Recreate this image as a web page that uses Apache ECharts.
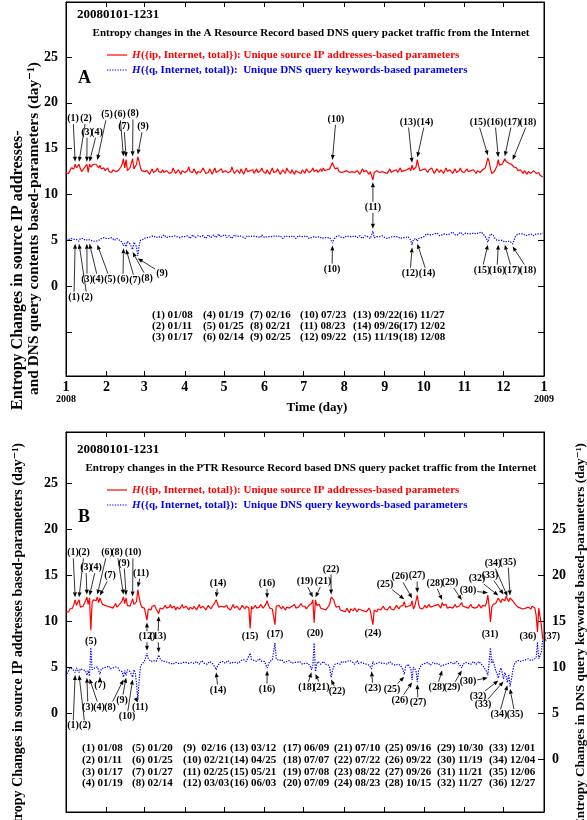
<!DOCTYPE html>
<html><head><meta charset="utf-8">
<script src="https://cdn.jsdelivr.net/npm/echarts@6/dist/echarts.min.js"></script>
<style>html,body{margin:0;padding:0;background:#fff}#c{width:587px;height:820px}</style>
</head><body><div id="c"></div>
<script>
// ---------------- DATA ----------------
const monthTicks = [0,31,60,91,121,152,182,213,244,274,305,335,366];
const monthLabels = ['1','2','3','4','5','6','7','8','9','10','11','12','1'];
const yearLabels = ['2008','2009'];
const yTickLabels = [0,5,10,15,20,25];

// Panel A: H({ip}) red, daily values (day 0 = 01/01/2008)
const RA = [
12.3,12.4,12.3,12.6,12.9,12.7,12.8,13.3,12.9,13.0,13.3,12.8,12.5,12.6,12.9,13.0,13.3,12.4,13.3,13.0,13.1,13.3,13.4,13.3,13.5,12.9,13.2,12.8,12.7,12.9,12.6,
12.8,12.9,12.5,12.6,12.4,12.7,12.9,12.5,12.4,12.6,12.8,13.0,13.3,13.9,12.9,13.8,12.6,12.7,12.9,13.1,13.9,12.8,12.7,13.3,14.1,13.6,12.9,12.6,12.4,
12.5,12.3,12.6,12.4,12.2,12.5,12.8,12.4,12.3,12.6,12.9,12.5,12.3,12.4,12.7,12.4,12.2,12.6,12.8,12.3,12.5,12.4,12.9,12.6,12.3,12.4,12.7,12.5,12.2,12.6,12.8,
12.4,12.3,12.6,13.0,12.5,12.3,12.4,12.8,12.6,12.2,12.5,12.7,12.4,12.3,12.9,12.6,12.3,12.5,12.4,12.8,12.5,12.2,12.6,12.9,12.4,12.3,12.6,12.5,12.8,12.4,
12.3,12.6,12.8,12.4,12.2,12.5,13.0,12.6,12.3,12.4,12.7,12.5,12.3,12.8,12.6,12.2,12.4,12.9,12.5,12.3,12.6,12.4,12.7,12.3,12.5,12.8,12.4,12.2,12.6,12.9,12.5,
12.4,12.3,12.7,12.5,12.2,12.6,12.9,12.4,12.3,12.5,12.8,12.6,12.2,12.4,12.7,12.5,12.3,12.9,12.6,12.4,12.3,12.7,12.5,12.2,12.6,12.8,12.4,12.5,12.3,12.7,
12.5,12.3,12.8,12.6,12.4,12.2,12.6,12.9,12.5,12.3,12.7,12.4,12.6,12.8,12.5,12.9,12.6,12.8,12.7,12.9,12.8,12.9,13.5,13.1,12.8,12.6,12.9,12.5,12.7,12.4,12.6,
12.5,12.3,12.6,12.8,12.4,12.2,12.5,12.7,12.4,12.3,12.6,12.5,12.2,12.4,12.8,12.5,12.3,12.6,12.4,12.2,12.5,12.3,11.6,12.4,12.2,12.6,12.8,12.4,12.3,12.5,12.7,
12.4,12.6,12.3,12.5,12.8,12.4,12.2,12.6,12.5,12.7,12.4,12.6,12.9,12.5,12.7,12.6,12.8,12.7,12.5,12.9,12.6,13.2,12.7,12.9,13.0,13.8,13.1,12.6,12.4,12.7,
12.5,12.8,12.6,12.4,12.7,12.5,12.9,12.6,12.3,12.5,12.8,12.6,12.4,12.7,12.5,12.3,12.6,12.9,12.5,12.4,12.7,12.6,12.3,12.5,12.8,12.4,12.3,12.6,12.9,12.5,12.4,
12.4,12.6,12.8,12.5,12.3,12.6,12.4,12.7,12.5,12.3,12.6,12.8,12.4,12.5,12.7,12.6,12.9,13.4,14.0,13.6,12.8,12.3,12.1,12.5,12.8,13.1,13.8,13.2,13.0,13.3,
13.4,13.9,13.6,13.5,13.4,13.2,13.3,13.5,13.0,12.8,12.9,12.6,12.4,12.7,12.5,12.3,12.6,12.4,12.2,12.5,12.4,12.3,12.5,12.6,12.4,12.3,12.2,12.4,12.1,12.0,11.9
];
// Panel A: H({q}) blue
const BA = [
5.1,5.2,5.1,5.0,5.2,5.3,5.1,4.9,5.1,5.2,4.9,5.2,5.3,5.2,5.1,5.0,4.9,5.1,4.9,5.0,5.1,4.9,4.8,4.9,4.8,5.0,5.1,5.2,5.1,5.3,5.2,
5.2,5.3,5.2,5.1,5.3,5.2,5.0,5.1,5.2,5.1,5.0,4.9,4.8,4.4,4.7,4.3,4.9,5.0,4.6,4.5,4.0,4.8,5.0,4.3,3.3,4.4,5.0,5.2,5.1,
5.2,5.3,5.4,5.3,5.2,5.4,5.3,5.5,5.4,5.3,5.2,5.4,5.5,5.3,5.4,5.6,5.4,5.3,5.5,5.4,5.2,5.4,5.6,5.5,5.3,5.4,5.5,5.3,5.2,5.4,5.6,
5.4,5.3,5.5,5.4,5.2,5.4,5.6,5.5,5.3,5.4,5.5,5.7,5.4,5.3,5.5,5.4,5.2,5.4,5.6,5.5,5.3,5.4,5.6,5.4,5.3,5.5,5.7,5.4,5.3,5.5,
5.4,5.6,5.3,5.4,5.5,5.3,5.2,5.4,5.6,5.5,5.4,5.3,5.5,5.6,5.4,5.3,5.2,5.4,5.5,5.3,5.4,5.6,5.5,5.3,5.4,5.2,5.4,5.5,5.3,5.6,5.4,
5.3,5.5,5.4,5.2,5.4,5.6,5.4,5.3,5.5,5.3,5.4,5.6,5.5,5.3,5.2,5.4,5.5,5.3,5.4,5.6,5.4,5.3,5.5,5.4,5.2,5.4,5.5,5.3,5.4,5.6,
5.4,5.3,5.5,5.4,5.2,5.4,5.3,5.5,5.4,5.2,5.3,5.5,5.4,5.3,5.2,5.4,5.3,5.5,5.3,5.2,5.3,5.1,4.7,5.1,5.3,5.4,5.3,5.5,5.4,5.3,5.4,
5.3,5.4,5.5,5.3,5.4,5.6,5.4,5.3,5.5,5.4,5.3,5.4,5.5,5.3,5.2,5.4,5.5,5.3,5.4,5.3,5.2,5.4,6.0,5.3,5.2,5.4,5.5,5.4,5.3,5.5,5.4,
5.3,5.4,5.2,5.4,5.3,5.5,5.4,5.2,5.4,5.3,5.4,5.3,5.2,5.4,5.3,5.1,5.3,5.2,5.4,5.2,5.0,4.5,5.1,5.3,5.2,4.9,5.2,5.4,5.3,5.5,
5.4,5.6,5.7,5.5,5.6,5.8,5.6,5.5,5.7,5.6,5.8,5.6,5.5,5.7,5.6,5.8,5.7,5.5,5.6,5.8,5.7,5.6,5.9,5.7,5.6,5.8,5.6,5.7,5.9,5.8,5.6,
5.7,5.8,5.6,5.7,5.9,5.7,5.6,5.8,5.9,5.7,5.6,5.8,5.7,5.9,5.8,5.6,5.5,5.2,4.8,5.3,5.7,5.8,5.6,5.3,5.1,5.0,4.8,5.0,4.9,5.0,
4.9,4.8,5.0,4.9,4.8,4.9,4.7,4.6,5.0,5.4,5.6,5.7,5.6,5.7,5.6,5.7,5.6,5.5,5.7,5.6,5.5,5.7,5.6,5.5,5.6,5.7,5.6,5.7,5.8,5.7,5.8
];
// Panel B: H({ip}) red (left axis)
const RB = [
11.0,11.1,11.0,11.3,11.5,11.4,11.8,12.3,11.7,11.9,12.3,11.5,11.3,11.6,11.9,12.2,12.6,11.8,12.5,9.0,12.0,12.3,12.4,12.2,12.6,12.0,12.5,12.1,11.8,12.0,11.7,
11.9,11.6,11.8,11.5,11.7,11.4,11.6,11.9,11.5,11.7,11.8,12.0,12.2,12.6,11.9,12.5,11.7,11.9,11.6,12.0,12.4,11.8,11.6,12.1,13.4,12.6,11.9,11.5,11.3,
11.4,11.2,10.1,11.3,11.5,11.2,11.6,11.4,11.7,11.3,11.5,10.8,11.4,11.6,11.3,11.5,11.7,11.4,11.2,11.5,11.8,11.4,11.3,11.6,11.2,11.5,11.7,11.3,11.5,11.8,11.4,
11.3,11.6,11.4,11.2,11.5,11.7,11.3,11.6,11.4,11.2,11.5,11.8,11.4,11.3,11.6,11.5,11.2,11.4,11.7,11.5,11.3,11.6,11.8,12.0,12.3,11.9,11.5,11.3,11.6,11.4,
11.5,11.3,11.7,11.4,11.6,11.2,11.5,11.8,11.4,11.3,11.6,11.5,11.2,11.4,11.7,11.5,11.3,11.6,11.8,11.4,9.2,11.6,11.3,11.5,11.7,11.4,11.2,11.5,11.8,11.6,11.4,
11.5,11.8,12.2,11.7,11.4,11.6,11.3,11.5,9.6,11.6,11.4,11.7,11.5,11.3,11.6,11.4,11.2,11.5,11.7,11.4,11.3,11.6,11.5,11.8,11.4,11.3,11.5,11.7,11.9,11.6,
11.4,11.6,11.3,11.5,11.7,11.8,11.9,12.3,9.8,12.3,11.7,11.5,11.8,11.4,11.6,11.3,11.5,11.2,11.4,11.6,11.9,12.6,12.6,12.3,11.8,11.5,11.3,11.6,11.2,11.4,11.1,
11.3,11.0,11.4,11.2,10.9,11.3,11.5,11.1,11.4,11.2,11.0,11.3,11.5,11.2,11.4,11.1,11.3,11.0,11.2,11.4,11.1,11.3,9.6,11.2,11.4,11.0,11.3,11.5,11.2,11.4,11.6,
11.3,11.5,11.2,11.4,11.6,11.3,11.5,11.2,11.4,11.7,11.5,11.3,11.6,11.4,11.7,12.1,11.5,11.3,11.6,11.4,11.7,12.2,11.3,11.6,11.4,12.8,11.8,11.4,11.6,11.3,
11.5,11.7,11.4,11.6,11.8,11.5,11.3,11.6,11.4,11.7,11.5,11.8,11.6,11.4,12.0,11.7,11.5,11.8,11.4,11.6,11.5,11.7,11.4,11.6,11.8,11.5,11.3,11.6,11.7,12.0,11.6,
11.8,11.5,11.7,11.4,11.6,11.8,11.5,11.7,11.4,11.6,11.5,11.8,11.6,11.4,11.7,11.5,11.6,12.0,12.8,11.6,9.9,11.5,11.8,12.0,11.9,12.2,12.5,12.3,12.0,12.4,
12.6,12.2,12.7,12.4,12.1,12.5,12.3,12.2,12.0,11.8,11.6,11.5,11.3,11.4,11.2,11.3,11.5,11.4,11.3,11.5,11.4,11.3,11.6,11.5,11.4,10.6,8.8,11.4,11.6,9.5,8.0
];
// Panel B: H({q}) blue (right axis)
const BB = [
9.0,9.3,9.6,9.9,10.0,9.8,10.0,9.4,9.9,10.0,9.4,9.8,10.0,9.7,9.8,9.6,9.1,9.6,9.0,12.1,9.7,9.8,9.9,9.7,10.0,9.6,9.2,9.8,10.0,9.9,10.1,
10.0,9.9,10.1,9.8,10.0,9.9,9.7,10.0,9.8,9.9,9.6,9.8,9.5,8.9,9.6,9.1,9.7,9.9,9.5,9.4,8.9,9.7,9.4,8.2,6.4,8.5,10.0,10.3,10.5,
10.6,10.8,11.5,10.9,10.7,10.6,10.5,10.7,10.8,10.6,10.8,11.3,10.9,10.7,10.6,10.5,10.6,10.4,10.5,10.6,10.4,10.5,10.3,10.4,10.5,10.3,10.4,10.5,10.4,10.3,10.5,
10.4,10.5,10.3,10.4,10.6,10.5,10.3,10.4,10.5,10.6,10.4,10.3,10.5,10.7,10.6,10.4,10.5,10.3,10.4,10.6,10.5,10.4,10.2,10.0,9.7,10.1,10.3,10.5,10.4,10.6,
10.5,10.4,10.6,10.7,10.5,10.4,10.6,10.5,10.3,10.5,10.6,10.4,10.5,10.7,10.6,10.8,10.7,10.6,10.9,10.7,11.5,10.8,10.6,10.7,10.8,10.6,10.7,10.9,10.8,10.6,10.7,
10.6,10.4,9.9,10.3,10.6,10.7,10.8,10.9,12.6,10.9,10.8,10.7,10.6,10.8,10.7,10.5,10.7,10.6,10.5,10.7,10.6,10.4,10.6,10.5,10.7,10.5,10.4,10.6,10.5,10.3,
10.5,10.4,10.6,10.4,10.3,10.1,9.7,10.2,12.6,9.5,10.3,10.6,10.5,10.3,10.4,10.6,10.5,10.3,10.4,10.2,9.9,8.9,9.6,10.0,10.3,10.2,10.4,10.5,10.3,10.6,10.4,
10.5,10.3,10.6,10.4,10.7,10.5,10.6,10.4,10.3,10.5,10.7,10.4,10.6,10.5,10.3,10.4,10.6,10.3,10.5,10.2,10.4,9.8,10.6,10.3,10.5,10.4,10.2,10.5,10.3,10.4,10.6,
10.4,10.5,10.3,10.4,10.6,10.4,10.3,10.5,10.2,10.4,10.3,10.5,10.2,10.0,9.7,9.2,10.0,10.2,10.3,10.1,9.8,8.6,10.0,10.2,9.6,8.4,9.6,10.0,10.2,10.3,
10.2,10.4,10.3,10.5,10.4,10.2,10.3,10.5,10.4,10.3,10.5,10.4,10.2,10.1,9.9,10.2,10.4,10.3,10.5,10.4,10.3,10.5,10.4,10.3,10.5,10.6,10.4,10.3,10.1,9.9,10.3,
10.4,10.5,10.6,10.4,10.5,10.3,10.4,10.6,10.5,10.3,10.5,10.6,10.4,10.3,10.2,10.0,9.8,9.5,9.1,10.6,12.1,10.4,10.8,10.2,9.6,9.3,8.8,9.5,9.9,9.4,
8.7,9.4,9.0,8.3,9.2,7.9,8.6,9.5,10.2,10.5,10.6,10.7,10.5,10.6,10.8,10.7,10.6,10.8,10.7,10.9,10.8,10.7,10.9,10.8,10.7,11.0,12.7,10.9,10.8,11.6,13.0
];
const datesA = ['01/08','01/11','01/17','01/19','01/25','02/14','02/16','02/21','02/25','07/23','08/23','09/22','09/22','09/26','11/19','11/27','12/02','12/08'];
const datesB = ['01/08','01/11','01/17','01/19','01/20','01/25','01/27','02/14','02/16','02/21','02/25','03/03','03/12','04/25','05/21','06/03','06/09','07/07','07/08','07/09','07/10','07/22','08/22','08/23','09/16','09/22','09/26','10/15','10/30','11/19','11/21','11/27','12/01','12/04','12/06','12/27'];

// ---------------- LAYOUT ----------------
// annotation label anchors: [number, series, labelDay, labelValue, arrow?]
const annA = [
 [1,'r',5.4,18.3],[2,'r',15.3,18.3],[3,'r',16.1,16.8],[4,'r',23.7,16.8],[5,'r',31.4,18.7],[6,'r',41.3,18.7],[7,'r',44.4,17.4],[8,'r',51.3,18.8],[9,'r',59.0,17.4],[10,'r',206.7,18.2],[11,'r',235,8.6],[13,'r',261.9,17.9],[14,'r',274.9,17.9],[15,'r',315.5,17.9],[16,'r',328.5,17.9],[17,'r',341.5,17.9],[18,'r',353.7,17.9],
 [1,'b',6.1,-1.2],[2,'b',16.1,-1.2],[3,'b',16.1,0.76],[4,'b',24.5,0.76],[5,'b',33.7,0.76],[6,'b',43.6,0.76],[7,'b',52.8,0.65],[8,'b',62.0,0.87],[9,'b',73.5,1.4],[10,'b',203.7,1.86],[11,'b',235,8.6],[12,'b',263.4,1.4],[14,'b',276.4,1.4],[15,'b',318.5,1.75],[16,'b',330,1.75],[17,'b',341.5,1.75],[18,'b',353.7,1.75]
];
const annB = [
 [1,'r',5.4,17.4],[2,'r',13.8,17.4],[3,'r',15.3,15.8],[4,'r',23.0,15.8],[6,'r',31.4,17.4],[7,'r',33.7,14.9],[8,'r',39.1,17.4],[9,'r',44.4,16.3],[10,'r',51.3,17.4],[11,'r',57.4,15.2],[14,'r',116.4,14.1],[16,'r',153.9,14.1],[19,'r',183,14.3],[21,'r',196.8,14.3],[22,'r',202.9,15.65],[25,'r',244.3,14.0],[26,'r',255.7,14.8],[27,'r',268.8,14.9],[28,'r',282.5,14.1],[29,'r',294,14.2],[30,'r',307.8,13.3],[32,'r',314.7,14.6],[33,'r',324.7,15.0],[34,'r',327,16.3],[35,'r',338.4,16.4],
 [5,'r',19.1,7.8,0],[15,'r',140.9,8.3,0],[17,'r',160,8.5,0],[20,'r',190.7,8.7,0],[24,'r',235,8.7,0],[31,'r',324.7,8.5,0],[36,'r',353.7,8.3,0],[37,'r',372,8.3,0],
 [12,'r',62,8.3],[12,'b',62,8.3],[13,'r',70.4,8.3],[13,'b',70.4,8.3],
 [1,'b',5.4,-1.4],[2,'b',14.5,-1.4],[3,'b',16.8,0.65],[4,'b',25.3,0.65],[7,'b',26,3.0],[8,'b',33.7,0.65],[9,'b',42.9,1.4],[10,'b',46.7,-0.4],[11,'b',56.7,0.65],[14,'b',116.4,2.5],[16,'b',153.9,2.6],[18,'b',184.3,2.8],[21,'b',195.5,2.8],[22,'b',207.5,2.3],[23,'b',235,2.7],[25,'b',249.6,2.6],[26,'b',255.7,1.4],[27,'b',269.5,1.1],[28,'b',284,2.8],[29,'b',295.6,2.8],[30,'b',307.8,3.4],[32,'b',315.5,1.8],[33,'b',319.3,0.9],[34,'b',331.5,-0.2],[35,'b',343.8,-0.2]
];
const FF = '"Liberation Serif","DejaVu Serif",serif';
const L = {
  gridA:{left:66, top:2, width:478, height:374}, gridB:{left:66, top:432, width:478, height:380},
  yA:[-9.8,31], yBL:[-10.76,30.54], yBR:[-5.76,35.54],
  tableA:{x:[152,203,250,300,353,399], y:[315,326,337], rows:3},
  tableB:{x:[82,132,183,230,283,334,385,437,489], y:[748,760,772,783], rows:4}
};

const chart = echarts.init(document.getElementById('c'));
const dayOf = s => monthTicks[+s.slice(0,2)-1] + (+s.slice(3)) - 1;
const blk = '#000';

function xAx(grid, pos, labels) {
  return {type:'value', gridIndex:grid, position:pos, min:0, max:366, splitLine:{show:false},
    axisLine:{show:true, onZero:false, lineStyle:{color:blk, width:1}},
    axisTick:{show:true, inside:true, length:5, customValues:monthTicks, lineStyle:{color:blk, width:1}},
    axisLabel: labels ? {show:true, customValues:monthTicks, margin:4, showMinLabel:true, showMaxLabel:true,
      formatter: v => { const i = monthTicks.indexOf(v);
        if (i === 0) return '{m|' + monthLabels[0] + '}\n{y|' + yearLabels[0] + '}';
        if (i === 12) return '{m|' + monthLabels[12] + '}\n{y|' + yearLabels[1] + '}';
        return '{m|' + monthLabels[i] + '}'; },
      rich:{m:{fontSize:14, fontWeight:'bold', fontFamily:FF, color:blk, lineHeight:14},
            y:{fontSize:10, fontWeight:'bold', fontFamily:FF, color:blk, lineHeight:11}}} : {show:false}};
}
function yAx(grid, pos, mm, labels, ticks) {
  return {type:'value', gridIndex:grid, position:pos, min:mm[0], max:mm[1], splitLine:{show:false},
    axisLine:{show:true, onZero:false, lineStyle:{color:blk, width:1}},
    axisTick:{show:true, inside:true, length:6, customValues:ticks, lineStyle:{color:blk, width:1}},
    axisLabel: labels ? {show:true, customValues:yTickLabels, margin:8, fontSize:14, fontWeight:'bold', fontFamily:FF, color:blk} : {show:false}};
}
const lineS = (d, xi, yi, color, dash) => ({type:'line', xAxisIndex:xi, yAxisIndex:yi, data:d.map((v,i)=>[i,v]),
  symbol:'none', showSymbol:false, silent:true, animation:false,
  lineStyle:{color, width:1.2, type: dash ? [1.3,1.3] : 'solid'}});

chart.setOption({
  animation:false,
  grid:[Object.assign({show:true, borderColor:blk, borderWidth:1}, L.gridA), Object.assign({show:true, borderColor:blk, borderWidth:1}, L.gridB)],
  xAxis:[xAx(0,'bottom',true), xAx(0,'top',false), xAx(1,'bottom',false), xAx(1,'top',false)],
  yAxis:[yAx(0,'left',L.yA,true,[-5,0,5,10,15,20,25]), yAx(0,'right',L.yA,false,[-5,0,5,10,15,20,25]),
         yAx(1,'left',L.yBL,true,[0,5,10,15,20,25]), yAx(1,'right',L.yBR,true,[0,5,10,15,20,25,30])],
  series:[lineS(RA,0,0,'#ff0000',false), lineS(BA,0,0,'#0000ff',true), lineS(RB,2,2,'#ff0000',false), lineS(BB,2,3,'#0000ff',true)]
});

// ---------------- GRAPHICS ----------------
const G = [];
function T(x, y, text, size, align, color, extra) {
  const el = {type:'text', x, y, z:100, silent:true, style:{text, font:'bold ' + size + 'px ' + FF, fill:color || blk,
    align:align || 'left', verticalAlign:'middle', textAlign:align || 'left', textVerticalAlign:'middle'}};
  return Object.assign(el, extra || {});
}
function arrow(tail, tip) {
  const dx = tip[0]-tail[0], dy = tip[1]-tail[1], len = Math.hypot(dx,dy) || 1;
  const ux = dx/len, uy = dy/len, Lh = 5, W = 2;
  const bx = tip[0]-ux*Lh, by = tip[1]-uy*Lh;
  G.push({type:'line', z:100, silent:true, shape:{x1:tail[0], y1:tail[1], x2:bx, y2:by}, style:{stroke:blk, lineWidth:0.8}});
  G.push({type:'polygon', z:100, silent:true, shape:{points:[[tip[0],tip[1]],[bx-uy*W, by+ux*W],[bx+uy*W, by-ux*W]]}, style:{fill:blk}});
}
function annotate(list, dates, lblAx, defs) {
  const seen = {};
  list.forEach(e => {
    const [n, s, lx, ly, ar] = e;
    const c = chart.convertToPixel({xAxisIndex:lblAx[0], yAxisIndex:lblAx[1]}, [lx, ly]);
    const lab = '(' + n + ')';
    const key = lab + '_' + lx + '_' + ly;
    if (!seen[key]) { seen[key] = 1; G.push(T(c[0], c[1], lab, 10, 'center')); }
    if (ar === 0 || !dates[n-1]) return;
    const day = dayOf(dates[n-1]);
    const sd = defs[s];
    const p = chart.convertToPixel({xAxisIndex:sd.ax[0], yAxisIndex:sd.ax[1]}, [day, sd.data[day]]);
    const above = c[1] < p[1];
    const tip = [p[0], p[1] + (above ? -2.5 : 2.5)];
    const dx = tip[0]-c[0], dy = tip[1]-c[1];
    const hw = (6.6 + 5*String(n).length)/2 + 1, hh = 5.5;
    const k = Math.min(dx ? hw/Math.abs(dx) : 1e9, dy ? hh/Math.abs(dy) : 1e9);
    arrow([c[0]+dx*k, c[1]+dy*k], tip);
  });
}
annotate(annA, datesA, [0,0], {r:{data:RA, ax:[0,0]}, b:{data:BA, ax:[0,0]}});
annotate(annB, datesB, [2,2], {r:{data:RB, ax:[2,2]}, b:{data:BB, ax:[2,3]}});

function table(dates, t) {
  dates.forEach((d, i) => {
    const col = Math.floor(i / t.rows), row = i % t.rows, n = i + 1;
    const colHasTwo = dates.some((_, j) => Math.floor(j / t.rows) === col && j + 1 >= 10);
    const sep = (n < 10 && colHasTwo) ? '  ' : ' ';
    G.push(T(t.x[col], t.y[row], '(' + n + ')' + sep + d, 11, 'left'));
  });
}
table(datesA, L.tableA);
table(datesB, L.tableB);

function panelHead(y0, sub, letter, ly) {
  G.push(T(77, y0, '20080101-1231', 13, 'left'));
  G.push(T(311, y0 + 18, sub, 11, 'center'));
  G.push({type:'line', z:100, silent:true, shape:{x1:107, y1:y0+40, x2:127, y2:y0+40}, style:{stroke:'#ff0000', lineWidth:1.2}});
  G.push({type:'line', z:100, silent:true, shape:{x1:107, y1:y0+55, x2:127, y2:y0+55}, style:{stroke:'#0000ff', lineWidth:1.2, lineDash:[1.3,1.3]}});
  G.push(T(132, y0+40, 'H', 11, 'left', '#ff0000'));
  G[G.length-1].style.font = 'italic bold 11px ' + FF;
  G.push(T(141, y0+40, '({ip, Internet, total}): Unique source IP addresses-based parameters', 11, 'left', '#ff0000'));
  G.push(T(132, y0+55, 'H', 11, 'left', '#0000ff'));
  G[G.length-1].style.font = 'italic bold 11px ' + FF;
  G.push(T(141, y0+55, '({q, Internet, total}):  Unique DNS query keywords-based parameters', 11, 'left', '#0000ff'));
  G.push(T(78, ly, letter, 18, 'left'));
}
panelHead(15, 'Entropy changes in the A Resource Record based DNS query packet traffic from the Internet', 'A', 78);
panelHead(450, 'Entropy changes in the PTR Resource Record based DNS query packet traffic from the Internet', 'B', 517);

G.push(T(317, 408, 'Time (day)', 13, 'center'));
const rot = Math.PI/2;
G.push(T(18, 410, 'Entropy Changes in source IP addresses-', 16, 'left', blk, {rotation:rot}));
G.push(T(34, 395, 'and DNS query contents based-parameters (day\u207B\u00B9)', 15.4, 'left', blk, {rotation:rot}));
G.push(T(18, 443, 'Entropy Changes in source IP addresses based-parameters (day\u207B\u00B9)', 14, 'right', blk, {rotation:rot}));
G.push(T(581, 443, 'Entropy Changes in DNS query keywords based-parameters (day\u207B\u00B9)', 13.2, 'right', blk, {rotation:rot}));

chart.setOption({graphic:{elements:G}});
</script></body></html>
